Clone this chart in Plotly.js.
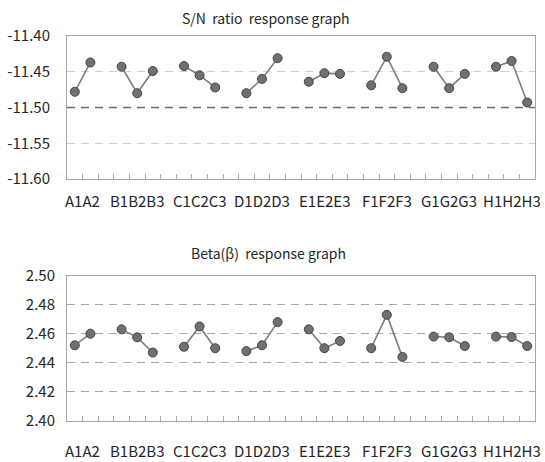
<!DOCTYPE html>
<html>
<head>
<meta charset="utf-8">
<script src="https://cdn.plot.ly/plotly-3.0.1.min.js"></script>
<style>html,body{margin:0;padding:0;background:#fff;}#chart{width:545px;height:462px;}</style>
</head>
<body>
<div id="chart"></div>
<script>
// ---- data ----
const factors = ['A', 'B', 'C', 'D', 'E', 'F', 'G', 'H'];
const groupLabels = ['A1A2', 'B1B2B3', 'C1C2C3', 'D1D2D3', 'E1E2E3', 'F1F2F3', 'G1G2G3', 'H1H2H3'];
const snValues = [
  [-11.478, -11.437],
  [-11.443, -11.480, -11.449],
  [-11.442, -11.455, -11.472],
  [-11.480, -11.460, -11.431],
  [-11.464, -11.452, -11.453],
  [-11.469, -11.429, -11.473],
  [-11.443, -11.473, -11.453],
  [-11.443, -11.435, -11.493]
];
const betaValues = [
  [2.452, 2.460],
  [2.463, 2.4575, 2.447],
  [2.451, 2.465, 2.450],
  [2.448, 2.452, 2.468],
  [2.463, 2.450, 2.455],
  [2.450, 2.473, 2.444],
  [2.458, 2.4575, 2.4515],
  [2.458, 2.4577, 2.4515]
];
const snTicks = [-11.60, -11.55, -11.50, -11.45, -11.40];
const betaTicks = [2.40, 2.42, 2.44, 2.46, 2.48, 2.50];
const snRefLine = -11.50;
const snTitle = 'S/N\u00a0 ratio\u00a0 response graph';
const betaTitle = 'Beta(\u03b2)\u00a0 response graph';

// ---- build ----
const FONT = '"Noto Sans CJK KR", "Noto Sans", sans-serif';
const FS = 15;
const traces = [];
const groupStart = [];
let slot = 0;
factors.forEach((f, i) => {
  groupStart.push(slot);
  slot += snValues[i].length + 1;
});
const nSlots = slot - 1;
const groupCenter = groupStart.map((s, i) => s + (snValues[i].length - 1) / 2);

function addTraces(vals, xa, ya) {
  vals.forEach((g, i) => {
    traces.push({
      type: 'scatter', mode: 'lines+markers',
      x: g.map((v, k) => groupStart[i] + k), y: g,
      xaxis: xa, yaxis: ya,
      line: {color: '#7f7f7f', width: 1.6},
      marker: {size: 9, color: '#707070', line: {color: '#454545', width: 1}},
      showlegend: false, hoverinfo: 'none'
    });
  });
}
addTraces(snValues, 'x', 'y');
addTraces(betaValues, 'x2', 'y2');

const boundaries = [];
for (let b = 0.5; b < nSlots; b += 1) boundaries.push(b);

const xDom = [67 / 545, 535 / 545];
function xaxisDef(anchor) {
  return {
    domain: xDom, anchor: anchor, range: [-0.5, nSlots - 0.5],
    tickvals: boundaries, ticktext: boundaries.map(() => ''),
    ticks: 'inside', ticklen: 5, tickcolor: '#a6a6a6', tickwidth: 1,
    showline: true, linecolor: '#a6a6a6', linewidth: 1, mirror: true,
    showgrid: false, zeroline: false, fixedrange: true
  };
}
function yaxisDef(anchor, dom, ticks, gridcolor, standoff) {
  return {
    domain: dom, anchor: anchor, range: [ticks[0], ticks[ticks.length - 1]],
    tickvals: ticks, ticktext: ticks.map(t => t.toFixed(2)),
    ticks: '', showline: true, linecolor: '#a6a6a6', linewidth: 1, mirror: true,
    showgrid: true, gridcolor: gridcolor, griddash: '8px,6px', gridwidth: 1,
    zeroline: false, automargin: false, ticklabelstandoff: standoff,
    tickfont: {family: FONT, size: FS, color: '#262626'}, fixedrange: true
  };
}

const H = 462;
const topDom = [(H - 179) / H, (H - 36) / H];
const botDom = [(H - 420.7) / H, (H - 275.7) / H];

const annotations = [];
groupLabels.forEach((lab, i) => {
  annotations.push({xref: 'x', yref: 'paper', x: groupCenter[i], y: (H - 200) / H,
    text: lab, showarrow: false, yanchor: 'middle', xanchor: 'center',
    font: {family: FONT, size: FS, color: '#262626'}});
  annotations.push({xref: 'x2', yref: 'paper', x: groupCenter[i], y: (H - 450) / H,
    text: lab, showarrow: false, yanchor: 'middle', xanchor: 'center',
    font: {family: FONT, size: FS, color: '#262626'}});
});
annotations.push({xref: 'paper', yref: 'paper', x: 266 / 545, y: (H - 18) / H,
  text: snTitle, showarrow: false, xanchor: 'center', yanchor: 'middle',
  font: {family: FONT, size: 14, color: '#262626'}});
annotations.push({xref: 'paper', yref: 'paper', x: 268 / 545, y: (H - 253) / H,
  text: betaTitle, showarrow: false, xanchor: 'center', yanchor: 'middle',
  font: {family: FONT, size: 14, color: '#262626'}});

const layout = {
  width: 545, height: 462,
  margin: {l: 0, r: 0, t: 0, b: 0, pad: 0},
  paper_bgcolor: '#ffffff', plot_bgcolor: '#ffffff',
  font: {family: FONT, size: FS, color: '#262626'},
  showlegend: false,
  xaxis: xaxisDef('y'),
  yaxis: yaxisDef('x', topDom, snTicks, '#d0d0d0', 13),
  xaxis2: xaxisDef('y2'),
  yaxis2: yaxisDef('x2', botDom, betaTicks, '#a8a8a8', 8),
  shapes: [{type: 'line', xref: 'x', yref: 'y', x0: -0.5, x1: nSlots - 0.5,
    y0: snRefLine, y1: snRefLine, layer: 'between',
    line: {color: '#6e6e6e', width: 1.4, dash: '8px,6px'}}],
  annotations: annotations
};

Plotly.newPlot('chart', traces, layout, {displayModeBar: false, staticPlot: true});
</script>
</body>
</html>
